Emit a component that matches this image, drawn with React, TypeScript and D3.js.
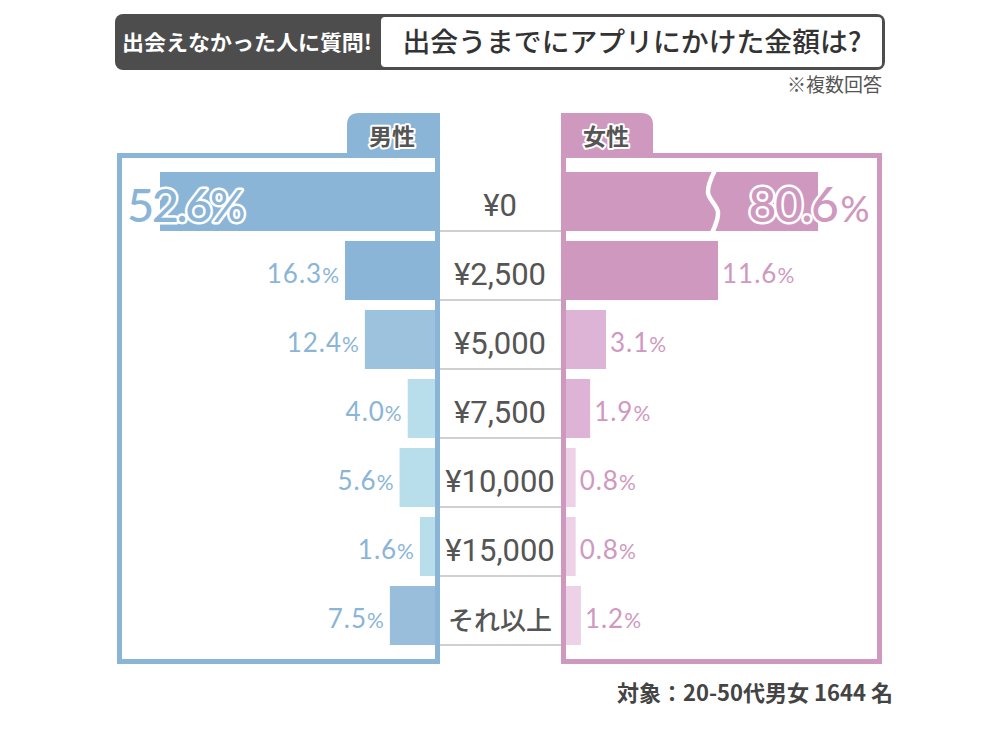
import React from "react";
import * as d3 from "d3";

const categories = ["¥0", "¥2,500", "¥5,000", "¥7,500", "¥10,000", "¥15,000", "それ以上"];
const maleValues = [52.6, 16.3, 12.4, 4.0, 5.6, 1.6, 7.5];
const femaleValues = [80.6, 11.6, 3.1, 1.9, 0.8, 0.8, 1.2];

const maleColors = ["#8bb5d7", "#8bb5d7", "#9dc2de", "#b9deeb", "#b9deeb", "#b9deeb", "#99bedb"];
const femaleColors = ["#cf99bf", "#cf99bf", "#ddb3d6", "#ddb3d6", "#edd1e7", "#edd1e7", "#edd1e7"];

const MALE = "#8bb5d7";
const FEMALE = "#cf99bf";
const JP = "'Noto Sans CJK JP', 'Noto Sans', sans-serif";
const NUM = "Lato, 'Noto Sans', sans-serif";

export default function App() {
  const W = 1000, H = 739;
  const y = d3.scaleBand<string>().domain(categories).range([172, 645]).paddingInner(10 / 69).paddingOuter(0);
  const bw = y.bandwidth();
  const maleBase = 437.5;
  const femaleBase = 563.5;
  const xm = d3.scaleLinear().domain([0, 52.6]).range([9.4, 277.5]);
  const xf = d3.scaleLinear().domain([0, 11.6]).range([1.6, 154.5]);
  const femaleCap = 254.5;

  const outline = { paintOrder: "stroke", stroke: "#fff", strokeLinejoin: "round" as const };

  return (
    <svg width={W} height={H} style={{ position: "absolute", left: 0, top: 0, background: "#fff" }}>
      {/* header */}
      <rect x={115} y={14} width={770} height={56} rx={8} fill="#4d4d4d" />
      <rect x={381} y={17} width={501} height={50} rx={4} fill="#fff" />
      <text x={247} y={50} textAnchor="middle" fill="#fff" fontFamily={JP} fontWeight={700} fontSize={21}
        textLength={250} lengthAdjust="spacingAndGlyphs">
        出会えなかった人に質問!
      </text>
      <text x={632} y={52} textAnchor="middle" fill="#333" fontFamily={JP} fontWeight={500} fontSize={27}
        textLength={459} lengthAdjust="spacingAndGlyphs">
        出会うまでにアプリにかけた金額は?
      </text>
      <text x={882} y={92} textAnchor="end" fill="#555" fontFamily={JP} fontSize={19}>
        ※複数回答
      </text>

      {/* tabs */}
      <path d={`M347,155 L347,125 Q347,113 359,113 L440,113 L440,155 Z`} fill={MALE} />
      <path d={`M561,155 L561,113 L641,113 Q653,113 653,125 L653,155 Z`} fill={FEMALE} />
      <text x={392} y={145} textAnchor="middle" fill="#555" fontFamily={JP} fontWeight={700} fontSize={23}
        style={{ ...outline, strokeWidth: 4 }}>男性</text>
      <text x={606} y={145} textAnchor="middle" fill="#555" fontFamily={JP} fontWeight={700} fontSize={23}
        style={{ ...outline, strokeWidth: 4 }}>女性</text>

      {/* center separators and labels */}
      {categories.map((c) => (
        <g key={c}>
          <line x1={440} x2={561} y1={y(c)! + bw} y2={y(c)! + bw} stroke="#d0d0d0" strokeWidth={2} />
          <text x={500} y={y(c)! + bw / 2 + 14} textAnchor="middle" fill="#555"
            fontFamily={c === "それ以上" ? JP : "Roboto, sans-serif"} fontWeight={c === "それ以上" ? 500 : 400}
            fontSize={c === "それ以上" ? 26 : 31}>{c}</text>
        </g>
      ))}

      {/* male bars */}
      {maleValues.map((v, i) => {
        const c = categories[i];
        const w = xm(v);
        return <rect key={"m" + i} x={maleBase - w} y={y(c)!} width={w} height={bw} fill={maleColors[i]} />;
      })}
      {/* female bars */}
      {femaleValues.map((v, i) => {
        const c = categories[i];
        const w = Math.min(xf(v), femaleCap);
        return <rect key={"f" + i} x={femaleBase} y={y(c)!} width={w} height={bw} fill={femaleColors[i]} />;
      })}
      {/* break mark on female top bar */}
      {femaleValues.map((v, i) => {
        if (xf(v) <= femaleCap) return null;
        const t = y(categories[i])!;
        const bx = 712;
        const pts: [number, number][] = [
          [bx + 3, t - 2], [bx - 4, t + bw * 0.35], [bx + 6, t + bw * 0.68], [bx, t + bw + 2],
        ];
        const line = d3.line().curve(d3.curveCatmullRom)(pts)!;
        return <path key={"brk" + i} d={line} fill="none" stroke="#fff" strokeWidth={4.5} />;
      })}

      {/* panel borders */}
      <path d={`M${maleBase},${155.5} L119.5,155.5 L119.5,661.5 L${maleBase},661.5 Z`} fill="none" stroke={MALE} strokeWidth={5} />
      <path d={`M${femaleBase},${155.5} L879.5,155.5 L879.5,661.5 L${femaleBase},661.5 Z`} fill="none" stroke={FEMALE} strokeWidth={5} />

      {/* male labels */}
      {maleValues.map((v, i) => {
        const c = categories[i];
        const cy = y(c)! + bw / 2;
        if (xm(v) > 200) {
          return (
            <text key={"ml" + i} x={127} y={cy + 20} fill={MALE} fontFamily={NUM} fontWeight={500}
              fontSize={47} letterSpacing={-2.5} style={{ ...outline, strokeWidth: 5 }}>
              {v.toFixed(1)}<tspan fontSize={44}>%</tspan>
            </text>
          );
        }
        return (
          <text key={"ml" + i} x={maleBase - xm(v) - 5} y={cy + 12} textAnchor="end" fill={MALE}
            fontFamily={NUM} fontSize={26} letterSpacing={1}>
            {v.toFixed(1)}<tspan fontSize={21}>%</tspan>
          </text>
        );
      })}
      {/* female labels */}
      {femaleValues.map((v, i) => {
        const c = categories[i];
        const cy = y(c)! + bw / 2;
        if (xf(v) > femaleCap) {
          return (
            <text key={"fl" + i} x={868} y={cy + 20} textAnchor="end" fill={FEMALE} fontFamily={NUM}
              fontWeight={500} fontSize={48} letterSpacing={-1.5} style={{ ...outline, strokeWidth: 5 }}>
              {v.toFixed(1)}<tspan fontSize={36} dx={3}>%</tspan>
            </text>
          );
        }
        return (
          <text key={"fl" + i} x={femaleBase + xf(v) + 4} y={cy + 12} fill={FEMALE}
            fontFamily={NUM} fontSize={26} letterSpacing={1}>
            {v.toFixed(1)}<tspan fontSize={21}>%</tspan>
          </text>
        );
      })}

      {/* footer */}
      <text x={893} y={701} textAnchor="end" fill="#444" fontFamily={JP} fontWeight={700} fontSize={22}>
        対象：20-50代男女 1644 名
      </text>
    </svg>
  );
}
